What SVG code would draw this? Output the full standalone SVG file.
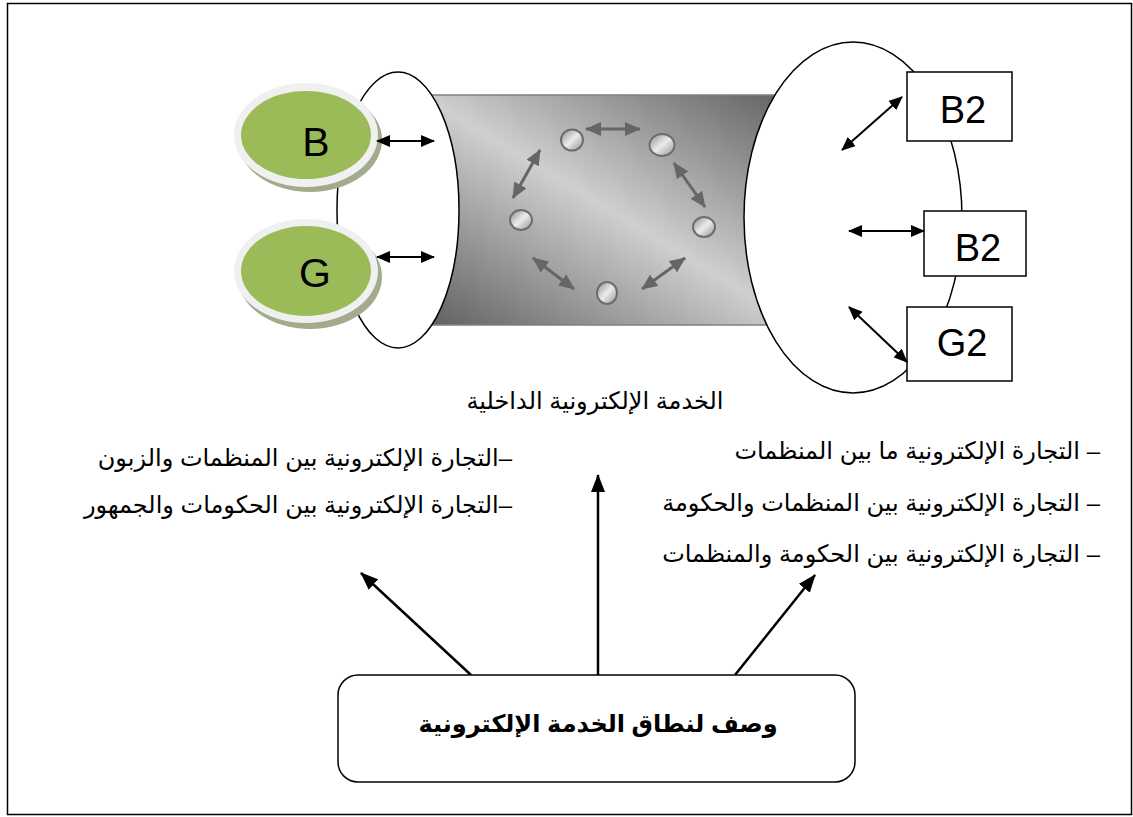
<svg xmlns="http://www.w3.org/2000/svg" width="1133" height="817" viewBox="0 0 1133 817">
<style>
.lat{font-family:"Liberation Sans",Arial,sans-serif;fill:#000}
.ar{font-family:"Liberation Sans","DejaVu Sans",sans-serif;font-size:24px;fill:#000}
.line{stroke:#000;stroke-width:2;fill:none}
.gline{stroke:#666;stroke-width:3;fill:none}
.big{stroke:#000;stroke-width:2.5;fill:none}
.ring{fill:#fff;stroke:#000;stroke-width:1.5}
.box{fill:#fff;stroke:#000;stroke-width:1.5}
.dot{fill:url(#dotg);stroke:#6d6d6d;stroke-width:2}
</style>
<defs>
<linearGradient id="tube" x1="1" y1="0" x2="0" y2="1">
<stop offset="0" stop-color="#5e5e5e"/>
<stop offset="0.5" stop-color="#cfcfcf"/>
<stop offset="1" stop-color="#5e5e5e"/>
</linearGradient>
<linearGradient id="dotg" x1="0" y1="0" x2="1" y2="1">
<stop offset="0" stop-color="#8a8a8a"/>
<stop offset="0.5" stop-color="#ececec"/>
<stop offset="1" stop-color="#8f8f8f"/>
</linearGradient>
<marker id="ah" viewBox="0 0 14 12" refX="13" refY="6" markerWidth="14" markerHeight="12" orient="auto-start-reverse" markerUnits="userSpaceOnUse"><path d="M0,0 L14,6 L0,12 z" fill="#000"/></marker>
<marker id="ahg" viewBox="0 0 16 14" refX="15" refY="7" markerWidth="16" markerHeight="14" orient="auto-start-reverse" markerUnits="userSpaceOnUse"><path d="M0,0 L16,7 L0,14 z" fill="#666"/></marker>
<marker id="ahb" viewBox="0 0 18 14" refX="17" refY="7" markerWidth="18" markerHeight="14" orient="auto" markerUnits="userSpaceOnUse"><path d="M0,0 L18,7 L0,14 z" fill="#000"/></marker>
</defs>
<rect x="7.5" y="3.5" width="1124" height="811" fill="#fff" stroke="#000" stroke-width="1.5"/>

<g id="tube-node">
<rect x="420" y="95" width="380" height="230" fill="url(#tube)" stroke="#808080" stroke-width="1.5"/>
</g>
<g id="left-ring"><ellipse cx="398" cy="210" rx="61" ry="138" class="ring"/></g>
<g id="right-ring"><ellipse cx="853" cy="217.5" rx="109" ry="175.5" class="ring"/></g>

<g id="node-B">
<ellipse cx="310" cy="140" rx="72" ry="52" fill="#a4ab8d"/>
<ellipse cx="306" cy="135" rx="72" ry="52" fill="#f0f0f0"/>
<ellipse cx="306" cy="135" rx="65" ry="44" fill="#9bbb59"/>
<text x="316" y="156" class="lat" font-size="41" text-anchor="middle">B</text>
</g>
<g id="node-G">
<ellipse cx="310" cy="277" rx="72" ry="52" fill="#a4ab8d"/>
<ellipse cx="306" cy="271" rx="72" ry="52" fill="#f0f0f0"/>
<ellipse cx="306" cy="271" rx="65" ry="45" fill="#9bbb59"/>
<text x="315" y="287" class="lat" font-size="41" text-anchor="middle">G</text>
</g>

<g id="node-B2a"><rect x="907" y="72" width="105" height="69" class="box"/><text x="963" y="123" class="lat" font-size="38" text-anchor="middle">B2</text></g>
<g id="node-B2b"><rect x="924" y="211" width="102" height="65" class="box"/><text x="978" y="261" class="lat" font-size="38" text-anchor="middle">B2</text></g>
<g id="node-G2"><rect x="907" y="307" width="105" height="74" class="box"/><text x="962" y="356" class="lat" font-size="38" text-anchor="middle">G2</text></g>

<g id="inner-dots">
<ellipse cx="572" cy="140" rx="11" ry="10.5" class="dot"/>
<ellipse cx="662" cy="145" rx="12.5" ry="11" class="dot"/>
<ellipse cx="521" cy="220" rx="11" ry="10" class="dot"/>
<ellipse cx="704" cy="227" rx="11" ry="10" class="dot"/>
<ellipse cx="607" cy="293" rx="10" ry="11" class="dot"/>
</g>

<g id="connectors">
<line x1="377" y1="141" x2="434" y2="141" class="line" marker-start="url(#ah)" marker-end="url(#ah)"/>
<line x1="377" y1="257" x2="434" y2="257" class="line" marker-start="url(#ah)" marker-end="url(#ah)"/>
<line x1="842" y1="150" x2="902" y2="97" class="line" marker-start="url(#ah)" marker-end="url(#ah)"/>
<line x1="849" y1="231" x2="924" y2="231" class="line" marker-start="url(#ah)" marker-end="url(#ah)"/>
<line x1="849" y1="307" x2="907" y2="362" class="line" marker-start="url(#ah)" marker-end="url(#ah)"/>
<line x1="586" y1="129" x2="640" y2="129" class="gline" marker-start="url(#ahg)" marker-end="url(#ahg)"/>
<line x1="540" y1="150" x2="513" y2="198" class="gline" marker-start="url(#ahg)" marker-end="url(#ahg)"/>
<line x1="674" y1="163" x2="705" y2="207" class="gline" marker-start="url(#ahg)" marker-end="url(#ahg)"/>
<line x1="533" y1="258" x2="574" y2="289" class="gline" marker-start="url(#ahg)" marker-end="url(#ahg)"/>
<line x1="685" y1="258" x2="642" y2="289" class="gline" marker-start="url(#ahg)" marker-end="url(#ahg)"/>
<line x1="471" y1="675" x2="361" y2="573" class="big" marker-end="url(#ahb)"/>
<line x1="598" y1="675" x2="598" y2="475" class="big" marker-end="url(#ahb)"/>
<line x1="735" y1="675" x2="815" y2="575" class="big" marker-end="url(#ahb)"/>
</g>

<g id="labels">
<text x="595" y="409" class="ar" text-anchor="middle" direction="rtl">الخدمة الإلكترونية الداخلية</text>
<text x="512" y="466" class="ar" text-anchor="start" direction="rtl">–التجارة الإلكترونية بين المنظمات والزبون</text>
<text x="512" y="513" class="ar" text-anchor="start" direction="rtl">–التجارة الإلكترونية بين الحكومات والجمهور</text>
<text x="1100" y="459" class="ar" text-anchor="start" direction="rtl">– التجارة الإلكترونية ما بين المنظمات</text>
<text x="1100" y="511" class="ar" text-anchor="start" direction="rtl">– التجارة الإلكترونية بين المنظمات والحكومة</text>
<text x="1100" y="562" class="ar" text-anchor="start" direction="rtl">– التجارة الإلكترونية بين الحكومة والمنظمات</text>
</g>

<g id="node-scope">
<rect x="338" y="675" width="517" height="107" rx="20" class="box"/>
<text x="598" y="732" class="ar" font-size="32" font-weight="bold" text-anchor="middle" direction="rtl">وصف لنطاق الخدمة الإلكترونية</text>
</g>
</svg>
